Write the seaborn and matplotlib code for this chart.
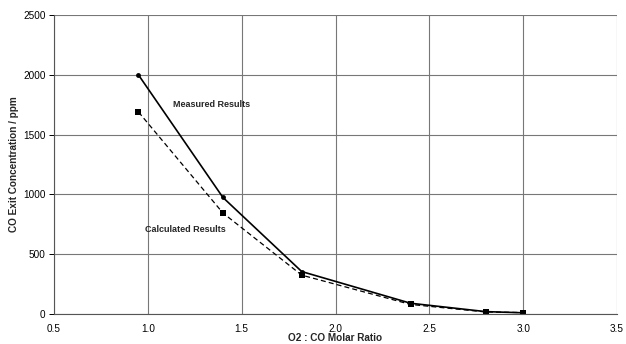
import matplotlib
matplotlib.use("Agg")
import matplotlib.pyplot as plt
import seaborn as sns
import pandas as pd

# O2 : CO molar ratio and CO exit concentration (ppm)
ratio = [0.95, 1.40, 1.82, 2.40, 2.80, 3.00]
measured = [2000, 975, 355, 90, 20, 10]
calculated = [1690, 845, 325, 80, 17, 12]

df = pd.DataFrame({"ratio": ratio, "Measured Results": measured,
                   "Calculated Results": calculated})

sns.set_style("white")
plt.rcParams["font.family"] = ["Liberation Sans", "DejaVu Sans"]

fig = plt.figure(figsize=(6.26, 3.44), dpi=100)
ax = fig.add_axes([0.0863, 0.0872, 0.8993, 0.8688])

sns.lineplot(data=df, x="ratio", y="Measured Results", ax=ax, color="black",
             lw=1.2, marker="o", markersize=3.5, markeredgewidth=0)
sns.lineplot(data=df, x="ratio", y="Calculated Results", ax=ax, color="black",
             lw=0.9, linestyle=(0, (4, 2.5)), marker="s", markersize=4,
             markeredgewidth=0)

ax.set_xlim(0.5, 3.5)
ax.set_ylim(0, 2500)
ax.set_xticks([0.5, 1.0, 1.5, 2.0, 2.5, 3.0, 3.5])
ax.set_xticklabels(["0.5", "1.0", "1.5", "2.0", "2.5", "3.0", "3.5"])
ax.set_yticks([0, 500, 1000, 1500, 2000, 2500])
ax.grid(True, color="#777777", lw=0.8)
ax.set_axisbelow(True)

for side in ["top", "right"]:
    ax.spines[side].set_visible(False)
for side in ["left", "bottom"]:
    ax.spines[side].set_color("#555555")
    ax.spines[side].set_linewidth(0.8)

ax.tick_params(axis="y", labelsize=7.2, colors="black", length=3.5,
               direction="out", left=True, width=0.7, pad=2.5)
ax.tick_params(axis="x", labelsize=7.2, colors="black", bottom=False, pad=3.5)

ax.set_xlabel("O2 : CO Molar Ratio", fontsize=7.2, fontweight="bold",
              va="bottom")
ax.set_ylabel("CO Exit Concentration / ppm", fontsize=7.2, fontweight="bold",
              va="center")
ax.xaxis.set_label_coords(0.5, -0.098)
ax.yaxis.set_label_coords(-0.071, 0.5)

ax.text(1.34, 1750, "Measured Results", fontsize=6.5, fontweight="bold",
        ha="center", va="center")
ax.text(1.20, 705, "Calculated Results", fontsize=6.5, fontweight="bold",
        ha="center", va="center")

fig.savefig("out.png", dpi=100)
